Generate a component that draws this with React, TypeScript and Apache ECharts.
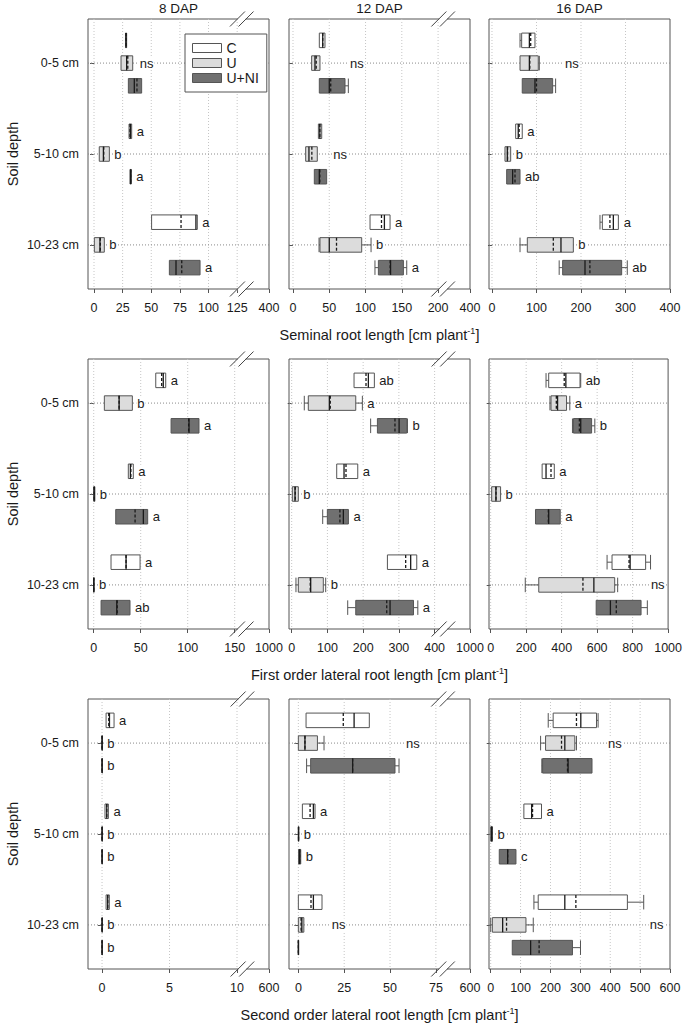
import React, { useEffect, useRef } from "react";
import * as echarts from "echarts";

const FONT = '"Liberation Sans", Arial, Helvetica, sans-serif';

const treatments = ["C", "U", "U+NI"];
const depthLabels = ["0-5 cm", "5-10 cm", "10-23 cm"];
const dapTitles = ["8 DAP", "12 DAP", "16 DAP"];
const rowAxisTitles = [
  "Seminal root length [cm plant{sup|-1}]",
  "First order lateral root length [cm plant{sup|-1}]",
  "Second order lateral root length [cm plant{sup|-1}]",
];

// Box statistics: depth -> treatment (C, U, U+NI) -> [min, q1, median, mean, q3, max]
const seminal8 = [
  [[27.5, 27.5, 28, 28, 28.5, 28.5], [23.6, 23.6, 28.5, 29.5, 33.8, 33.8], [30, 30, 35.2, 37.5, 41.6, 41.6]],
  [[30.6, 30.6, 31.8, 31.5, 32.9, 32.9], [4.6, 4.6, 8.2, 8.5, 13.4, 13.4], [31.4, 31.4, 32, 32, 32.6, 32.6]],
  [[50.3, 50.3, 89, 76, 90.2, 90.2], [0.3, 0.3, 5.2, 5.5, 9, 9], [65.8, 65.8, 71.6, 76.6, 92.6, 92.6]],
];
const seminal12 = [
  [[36.3, 36.3, 41, 41, 44.1, 44.1], [25.7, 25.7, 30.3, 32, 37.2, 37.2], [36.3, 36.3, 50, 52, 71.7, 76.3]],
  [[35, 35, 37, 37, 39.6, 39.6], [17.5, 17.5, 22, 26, 33.5, 33.5], [29.4, 29.4, 36.3, 37, 46.4, 46.4]],
  [[106.2, 106.2, 126, 122, 133.8, 133.8], [35.9, 37.2, 50, 60, 94.7, 107.6], [113, 117.7, 134.5, 134, 152.2, 156.8]],
];
const seminal16 = [
  [[63, 66.7, 84, 87, 96.6, 96.6], [62, 63, 84, 85, 104, 106.4], [68, 68, 96.6, 100, 136.3, 143]],
  [[53.2, 53.2, 59, 61, 68, 68], [29.2, 29.2, 34.5, 35, 42, 42], [33, 33, 46.4, 51.7, 63, 63]],
  [[242.7, 248, 272.7, 265, 284, 285], [63, 79.4, 155, 137.8, 182.8, 182.8], [151, 158.8, 209, 220, 291.4, 304]],
];
const first8 = [
  [[66, 66, 74, 72.3, 76.6, 76.6], [11.3, 11.3, 27, 27, 41.1, 41.1], [82.3, 82.3, 101.4, 101, 112, 112]],
  [[36.8, 36.8, 39, 39.5, 42.1, 42.1], [0, 0, 0.5, 0.5, 1.2, 1.2], [23.4, 23.4, 52.8, 44, 57.4, 57.4]],
  [[18.4, 18.4, 34.4, 34.4, 49.3, 49.3], [0, 0, 0, 0, 0.3, 0.3], [7.8, 7.8, 24.5, 25, 38.6, 38.6]],
];
const first12 = [
  [[174.5, 174.5, 214.6, 208, 231.4, 231.4], [35.3, 46.5, 105.4, 108, 179.3, 197.8], [221, 239.9, 300.6, 289, 322, 324]],
  [[126, 126, 146.5, 152, 184.9, 184.9], [1.8, 1.8, 9.3, 10, 18.6, 18.6], [86.8, 99.8, 144.6, 135, 158.7, 158.7]],
  [[267.9, 267.9, 333, 319, 350, 350], [12, 18.6, 53.2, 52, 88.5, 95.2], [156.8, 179.3, 275.3, 266, 340.9, 353]],
];
const first16 = [
  [[312, 327, 423.7, 414.5, 503.6, 507.5], [334, 340, 377, 370, 427.6, 446], [460.9, 466.5, 507.5, 500, 568.8, 587]],
  [[290, 290, 312, 340, 358.6, 358.6], [5.6, 5.6, 29.6, 30, 55.8, 55.8], [252.6, 252.6, 327, 325, 392, 392]],
  [[656, 684, 786, 780, 873.4, 901], [195, 271, 581.6, 520, 699, 715.7], [594.6, 594.6, 674.8, 708, 847.6, 883]],
];
const second8 = [
  [[0.3, 0.3, 0.55, 0.5, 0.89, 0.89], [0, 0, 0, 0, 0.02, 0.02], [0, 0, 0, 0, 0.02, 0.02]],
  [[0.22, 0.22, 0.35, 0.35, 0.47, 0.47], [0, 0, 0, 0, 0.02, 0.02], [0, 0, 0, 0, 0.02, 0.02]],
  [[0.3, 0.3, 0.42, 0.42, 0.54, 0.54], [0, 0, 0, 0, 0.02, 0.02], [0, 0, 0, 0, 0.02, 0.02]],
];
const second12 = [
  [[4.2, 4.2, 30.4, 24.5, 38.7, 38.7], [0, 0, 3.6, 3.6, 10.4, 14], [4.5, 6.7, 29.6, 29.6, 52.7, 54.9]],
  [[2.2, 2.2, 8.2, 6.4, 9.1, 9.1], [0, 0, 0.1, 0.1, 0.2, 0.2], [0.1, 0.1, 0.7, 0.7, 1.3, 1.3]],
  [[0, 0, 8.2, 6.9, 12.9, 12.9], [0, 0, 1.9, 1.5, 3, 3], [0, 0, 0, 0, 0.1, 0.1]],
];
const second16 = [
  [[192.5, 209, 301.5, 287, 354, 359.4], [167, 183.6, 248, 237, 281.5, 287], [171, 173.6, 259, 257, 339, 339]],
  [[111, 111, 137, 140, 170, 170], [0, 0, 3, 3, 6, 6], [28.7, 28.7, 56.7, 56.7, 84.5, 84.5]],
  [[144.6, 159, 248, 285, 457.4, 512], [0, 5.5, 40, 53, 118, 142.4], [72.2, 72.2, 133.6, 162, 273.6, 300.5]],
];

// Significance letters: depth -> treatment
const seminal8Letters = [["", "", ""], ["a", "b", "a"], ["a", "b", "a"]];
const seminal12Letters = [["", "", ""], ["", "", ""], ["a", "b", "a"]];
const seminal16Letters = [["", "", ""], ["a", "b", "ab"], ["a", "b", "ab"]];
const first8Letters = [["a", "b", "a"], ["a", "b", "a"], ["a", "b", "ab"]];
const first12Letters = [["ab", "a", "b"], ["a", "b", "a"], ["a", "b", "a"]];
const first16Letters = [["ab", "a", "b"], ["a", "b", "a"], ["", "", ""]];
const second8Letters = [["a", "b", "b"], ["a", "b", "b"], ["a", "b", "b"]];
const second12Letters = [["", "", ""], ["a", "b", "b"], ["", "", ""]];
const second16Letters = [["", "", ""], ["a", "b", "c"], ["", "", ""]];

// "ns" annotations: [depth index, value on the axis where the label starts]
const seminal8Ns = [[0, 40]];
const seminal12Ns = [[0, 78.6], [1, 55.6]];
const seminal16Ns = [[0, 164]];
const first8Ns: number[][] = [];
const first12Ns: number[][] = [];
const first16Ns = [[2, 903]];
const second8Ns: number[][] = [];
const second12Ns = [[0, 58.7], [2, 18.2]];
const second16Ns = [[0, 392.6], [2, 532]];

// Axis tick values and labels (last label sits beyond an axis break where present)
const seminal8Ticks = [0, 25, 50, 75, 100, 125];
const seminal12Ticks = [0, 50, 100, 150, 200];
const seminal16Ticks = [0, 100, 200, 300];
const first8Ticks = [0, 50, 100, 150];
const first12Ticks = [0, 100, 200, 300, 400];
const first16Ticks = [0, 200, 400, 600, 800];
const second8Ticks = [0, 5, 10];
const second12Ticks = [0, 25, 50, 75];
const second16Ticks = [0, 100, 200, 300, 400, 500];
const lastTickLabels = ["400", "400", "400", "1000", "1000", "1000", "600", "600", "600"];

const panels = [
  { stats: seminal8, letters: seminal8Letters, ns: seminal8Ns, ticks: seminal8Ticks },
  { stats: seminal12, letters: seminal12Letters, ns: seminal12Ns, ticks: seminal12Ticks },
  { stats: seminal16, letters: seminal16Letters, ns: seminal16Ns, ticks: seminal16Ticks },
  { stats: first8, letters: first8Letters, ns: first8Ns, ticks: first8Ticks },
  { stats: first12, letters: first12Letters, ns: first12Ns, ticks: first12Ticks },
  { stats: first16, letters: first16Letters, ns: first16Ns, ticks: first16Ticks },
  { stats: second8, letters: second8Letters, ns: second8Ns, ticks: second8Ticks },
  { stats: second12, letters: second12Letters, ns: second12Ns, ticks: second12Ticks },
  { stats: second16, letters: second16Letters, ns: second16Ns, ticks: second16Ticks },
];

// Layout of the axes (display domain and break position on the display scale)
const axisLayout = [
  { min: -5.24, max: 152.8, brk: 129 },
  { min: -5.5, max: 244, brk: 207 },
  { min: -6.7, max: 400, brk: null },
  { min: -6.1, max: 186.5, brk: 157.5 },
  { min: -7.5, max: 499, brk: 424.6 },
  { min: -9.5, max: 1000, brk: null },
  { min: -1.04, max: 12.37, brk: 10.4 },
  { min: -5.1, max: 93.6, brk: 78.9 },
  { min: -5.7, max: 600, brk: null },
];

const GRID_LEFT = [88, 289, 489];
const GRID_TOP = [19, 359, 699];
const GRID_W = 181;
const GRID_H = 270;
const Y_MIN = 0.515;
const Y_MAX = 3.485;
const OFFSETS = [-0.25, 0, 0.25];
const FILLS = ["#ffffff", "#dcdcdc", "#707070"];
const EDGE = "#555555";
const INK = "#1a1a1a";

function buildOption() {
  const grids: any[] = [];
  const xAxes: any[] = [];
  const yAxes: any[] = [];
  const series: any[] = [];

  panels.forEach((panel, i) => {
    const r = Math.floor(i / 3);
    const c = i % 3;
    const lay = axisLayout[i];
    grids.push({
      left: GRID_LEFT[c],
      top: GRID_TOP[r],
      width: GRID_W,
      height: GRID_H,
      show: true,
      borderColor: EDGE,
      borderWidth: 1,
      backgroundColor: "transparent",
    });
    const tickVals = [...panel.ticks, lay.max];
    xAxes.push({
      gridIndex: i,
      type: "value",
      min: lay.min,
      max: lay.max,
      axisLine: { show: false },
      splitLine: { show: false },
      axisTick: { show: true, length: 4, lineStyle: { color: EDGE }, customValues: tickVals },
      axisLabel: {
        customValues: tickVals,
        formatter: (v: number) => (Math.abs(v - lay.max) < 1e-6 ? lastTickLabels[i] : String(v)),
        margin: 12,
        fontSize: 12.5,
        color: INK,
        fontFamily: FONT,
      },
      name: c === 1 ? rowAxisTitles[r] : "",
      nameLocation: "middle",
      nameGap: 37,
      nameTextStyle: {
        fontSize: 14.5,
        color: INK,
        fontFamily: FONT,
        rich: { sup: { fontSize: 9, color: INK, fontFamily: FONT, verticalAlign: "top", padding: [0, 0, 8, 0] } },
      },
    });
    yAxes.push({
      gridIndex: i,
      type: "value",
      inverse: true,
      min: Y_MIN,
      max: Y_MAX,
      axisLine: { show: false },
      splitLine: { show: false },
      axisTick: { show: true, length: 4, lineStyle: { color: EDGE }, customValues: [1, 2, 3] },
      axisLabel: {
        show: c === 0,
        customValues: [1, 2, 3],
        formatter: (v: number) => depthLabels[Math.round(v) - 1],
        margin: 9,
        fontSize: 12.5,
        color: INK,
        fontFamily: FONT,
      },
      name: c === 0 ? "Soil depth" : "",
      nameLocation: "middle",
      nameGap: 68,
      nameRotate: 90,
      nameTextStyle: { fontSize: 14.5, color: INK, fontFamily: FONT },
    });

    // vertical dotted grid lines
    series.push({
      type: "custom",
      xAxisIndex: i,
      yAxisIndex: i,
      silent: true,
      z: 1,
      data: panel.ticks.map((t) => [t, 2]),
      encode: { x: 0, y: 1 },
      renderItem: (params: any, api: any) => {
        const cs = params.coordSys;
        const x = api.coord([api.value(0), 2])[0];
        return {
          type: "line",
          shape: { x1: x, y1: cs.y, x2: x, y2: cs.y + cs.height },
          style: { stroke: "#c6c6c6", lineWidth: 1, lineDash: [1, 2] },
        };
      },
    });
    // horizontal dotted lines at the depth centres
    series.push({
      type: "custom",
      xAxisIndex: i,
      yAxisIndex: i,
      silent: true,
      z: 1,
      data: [[0, 1], [0, 2], [0, 3]],
      encode: { x: 0, y: 1 },
      renderItem: (params: any, api: any) => {
        const cs = params.coordSys;
        const y = api.coord([0, api.value(1)])[1];
        return {
          type: "line",
          shape: { x1: cs.x, y1: y, x2: cs.x + cs.width, y2: y },
          style: { stroke: "#8a8a8a", lineWidth: 1, lineDash: [1, 2] },
        };
      },
    });

    // boxes
    treatments.forEach((name, t) => {
      series.push({
        type: "custom",
        name,
        xAxisIndex: i,
        yAxisIndex: i,
        z: 3,
        itemStyle: { color: FILLS[t], borderColor: EDGE, borderWidth: 1 },
        data: panel.stats.map((depthRow, d) => [d + 1 + OFFSETS[t], ...depthRow[t]]),
        encode: { x: [1, 2, 3, 4, 5, 6], y: 0 },
        renderItem: (params: any, api: any) => {
          const y = api.value(0);
          const px = [1, 2, 3, 4, 5, 6].map((k) => api.coord([api.value(k), y])[0]);
          const yc = api.coord([0, y])[1];
          const h = Math.abs(api.coord([0, y + 0.08])[1] - yc);
          const [pMin, pQ1, pMed, pMean, pQ3, pMax] = px;
          const wStyle = { stroke: EDGE, lineWidth: 1 };
          const children: any[] = [];
          if (pQ1 - pMin > 0.6) {
            children.push({ type: "line", shape: { x1: pMin, y1: yc, x2: pQ1, y2: yc }, style: wStyle });
            children.push({ type: "line", shape: { x1: pMin, y1: yc - h, x2: pMin, y2: yc + h }, style: wStyle });
          }
          if (pMax - pQ3 > 0.6) {
            children.push({ type: "line", shape: { x1: pQ3, y1: yc, x2: pMax, y2: yc }, style: wStyle });
            children.push({ type: "line", shape: { x1: pMax, y1: yc - h, x2: pMax, y2: yc + h }, style: wStyle });
          }
          children.push({
            type: "rect",
            shape: { x: pQ1, y: yc - h, width: Math.max(pQ3 - pQ1, 0.4), height: 2 * h },
            style: { fill: FILLS[t], stroke: EDGE, lineWidth: 1 },
          });
          children.push({
            type: "line",
            shape: { x1: pMean, y1: yc - h, x2: pMean, y2: yc + h },
            style: { stroke: INK, lineWidth: 1.3, lineDash: [3, 2] },
          });
          children.push({
            type: "line",
            shape: { x1: pMed, y1: yc - h, x2: pMed, y2: yc + h },
            style: { stroke: INK, lineWidth: 1.3 },
          });
          return { type: "group", children };
        },
      });
    });

    // significance letters
    const labelData: number[][] = [];
    const labelTexts: string[] = [];
    panel.letters.forEach((row, d) => {
      row.forEach((txt, t) => {
        if (txt) {
          labelData.push([panel.stats[d][t][5], d + 1 + OFFSETS[t], 0]);
          labelTexts.push(txt);
        }
      });
    });
    panel.ns.forEach(([d, xv]) => {
      labelData.push([xv, d + 1, 1]);
      labelTexts.push("ns");
    });
    series.push({
      type: "custom",
      xAxisIndex: i,
      yAxisIndex: i,
      silent: true,
      z: 4,
      data: labelData,
      encode: { x: 0, y: 1 },
      renderItem: (params: any, api: any) => {
        const p = api.coord([api.value(0), api.value(1)]);
        const off = api.value(2) ? -1 : 4;
        return {
          type: "text",
          x: p[0] + off,
          y: p[1],
          style: {
            text: labelTexts[params.dataIndex],
            font: `13px ${FONT}`,
            fill: INK,
            align: "left",
            verticalAlign: "middle",
            textAlign: "left",
            textVerticalAlign: "middle",
            backgroundColor: "#ffffff",
            padding: [0, 1, 0, 1],
          },
        };
      },
    });

    // axis break marks
    if (lay.brk !== null) {
      series.push({
        type: "custom",
        xAxisIndex: i,
        yAxisIndex: i,
        silent: true,
        z: 5,
        clip: false,
        data: [[lay.brk, 2]],
        encode: { x: 0, y: 1 },
        renderItem: (params: any, api: any) => {
          const cs = params.coordSys;
          const bx = api.coord([api.value(0), 2])[0];
          const children: any[] = [];
          [cs.y, cs.y + cs.height].forEach((yy: number) => {
            children.push({ type: "rect", shape: { x: bx - 4, y: yy - 1.5, width: 8, height: 3 }, style: { fill: "#ffffff" } });
            [-4.3, 4.3].forEach((dx) => {
              children.push({
                type: "line",
                shape: { x1: bx + dx - 7.5, y1: yy + 7.5, x2: bx + dx + 7.5, y2: yy - 7.5 },
                style: { stroke: "#444444", lineWidth: 1 },
              });
            });
          });
          return { type: "group", children };
        },
      });
    }
  });

  const graphics = dapTitles.map((title, c) => ({
    type: "text",
    x: GRID_LEFT[c] + GRID_W / 2,
    y: 8,
    style: {
      text: title,
      font: `13.5px ${FONT}`,
      fill: INK,
      align: "center",
      verticalAlign: "middle",
      textAlign: "center",
      textVerticalAlign: "middle",
    },
  }));

  return {
    animation: false,
    backgroundColor: "#ffffff",
    grid: grids,
    xAxis: xAxes,
    yAxis: yAxes,
    series,
    graphic: graphics,
    legend: {
      orient: "vertical",
      left: 185,
      top: 34,
      selectedMode: false,
      backgroundColor: "#ffffff",
      borderColor: EDGE,
      borderWidth: 1,
      padding: [7, 8, 7, 7],
      itemWidth: 29,
      itemHeight: 9,
      itemGap: 1,
      icon: "rect",
      textStyle: { fontSize: 14, color: INK, fontFamily: FONT },
      data: treatments.map((name, t) => ({
        name,
        icon: "rect",
        itemStyle: { color: FILLS[t], borderColor: EDGE, borderWidth: 1 },
      })),
    },
  };
}

export default function App() {
  const ref = useRef<HTMLDivElement>(null);
  useEffect(() => {
    if (!ref.current) return;
    const chart = echarts.init(ref.current, undefined, { renderer: "svg" });
    chart.setOption(buildOption() as any);
    return () => chart.dispose();
  }, []);
  return (
    <div
      ref={ref}
      style={{ position: "absolute", left: 0, top: 0, width: 685, height: 1023, background: "#ffffff" }}
    />
  );
}
